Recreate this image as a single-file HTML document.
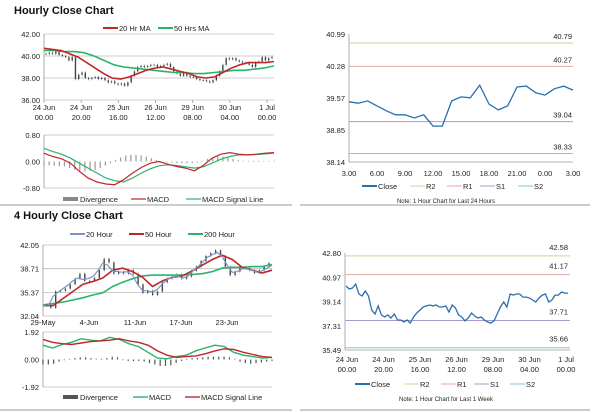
<!DOCTYPE html>
<html><head><meta charset="utf-8"><style>
body{margin:0;background:#fff;width:600px;height:413px;overflow:hidden;font-family:"Liberation Sans",sans-serif}
svg{position:absolute;left:0;top:0}
text{font-family:"Liberation Sans",sans-serif;font-size:7.5px;fill:#222}
.t{font-size:11px;font-weight:bold;fill:#111}
</style></head><body>
<svg id="c" width="600" height="413"></svg>
<script>
// ===== Hourly close chart =====
const h1Close=[40.2,40.3,40.2,40.4,40.1,40.0,39.9,39.6,39.9,37.9,38.3,38.5,38.0,37.9,38.0,38.1,37.9,38.0,37.8,37.6,37.7,37.5,37.4,37.5,37.3,37.6,38.2,38.6,39.0,39.1,39.0,39.1,39.2,39.2,39.0,39.1,39.2,39.3,39.0,38.6,38.4,38.2,38.5,38.2,38.1,38.1,37.9,37.8,37.8,37.7,37.6,37.8,38.2,38.6,39.2,39.8,39.7,39.8,39.6,39.5,39.4,39.4,39.2,39.0,39.4,39.5,39.9,39.6,39.8,39.9];
const h1MA20=[40.7,40.6,40.5,40.2,39.9,39.4,38.9,38.4,38.0,37.9,38.1,38.4,38.7,38.9,39.0,38.8,38.6,38.4,38.1,38.0,38.1,38.5,38.9,39.2,39.4,39.4,39.4,39.5];
const h1MA50=[40.5,40.5,40.4,40.4,40.3,40.0,39.6,39.2,39.0,38.9,38.8,38.7,38.6,38.5,38.5,38.4,38.4,38.5,38.6,38.7,38.7,38.8,38.9,39.1];
const h1Ticks=[42,40,38,36];
const h1XLabels=[["24 Jun","00.00"],["24 Jun","20.00"],["25 Jun","16.00"],["26 Jun","12.00"],["29 Jun","08.00"],["30 Jun","04.00"],["1 Jul","00.00"]];
const h1Macd=[0.25,0.15,0.08,-0.05,-0.3,-0.5,-0.62,-0.68,-0.7,-0.55,-0.35,-0.18,-0.05,0.0,-0.08,-0.15,-0.2,-0.28,-0.12,0.1,0.22,0.27,0.22,0.2,0.22,0.25,0.27];
const h1Signal=[0.4,0.3,0.22,0.1,-0.05,-0.2,-0.35,-0.5,-0.58,-0.62,-0.5,-0.35,-0.22,-0.13,-0.1,-0.12,-0.16,-0.2,-0.16,-0.05,0.07,0.15,0.2,0.2,0.21,0.23,0.25];
const h1Div=[-0.12,-0.12,-0.13,-0.14,-0.15,-0.2,-0.25,-0.28,-0.3,-0.28,-0.25,-0.2,-0.12,-0.05,0.05,0.12,0.18,0.2,0.2,0.18,0.15,0.1,0.05,0.0,-0.02,-0.03,-0.05,-0.05,-0.05,-0.05,-0.03,0.02,0.08,0.12,0.15,0.15,0.12,0.08,0.04,0.02,0.02,0.02,0.02,0.02,0.02,0.02];
const h1MTicks=[0.8,0,-0.8];
// ===== Hourly levels chart =====
const r24Close=[39.48,39.45,39.50,39.39,39.28,39.19,39.19,39.12,39.19,38.94,38.94,39.50,39.59,39.57,39.85,39.43,39.30,39.39,39.81,39.83,39.68,39.63,39.77,39.83,39.74];
const r24Ticks=[40.99,40.28,39.57,38.85,38.14];
const r24XLabels=["3.00","6.00","9.00","12.00","15.00","18.00","21.00","0.00","3.00"];
const r24Levels=[40.79,40.27,39.04,38.33];
// ===== 4 hourly chart =====
const h4Close=[33.5,33.2,35.5,35.6,35.9,36.5,37.3,38.0,37.0,37.0,37.4,38.5,40.1,39.6,38.0,38.3,38.0,38.5,38.0,36.5,35.3,35.6,35.0,35.5,36.8,37.3,37.6,37.9,37.3,37.6,38.4,39.0,39.8,40.5,40.9,41.3,40.5,39.0,37.8,38.3,38.9,38.8,38.5,38.1,38.5,39.0,39.5];
const h4MA20=[33.6,33.4,34.8,35.4,35.9,36.4,37.0,37.4,37.2,37.3,37.6,38.4,39.5,39.2,38.4,38.3,38.2,38.3,37.8,36.5,35.6,35.6,35.4,35.8,36.6,37.2,37.5,37.7,37.4,37.6,38.3,38.9,39.6,40.3,40.7,41.0,40.4,39.2,38.2,38.3,38.7,38.7,38.5,38.2,38.4,38.8,39.2];
const h4MA50=[33.5,33.5,34.5,35.5,36.5,36.9,37.4,38.5,38.8,38.3,37.5,36.2,37.0,37.5,37.7,38.4,39.2,40.0,40.6,40.0,38.9,38.5,38.1,38.5];
const h4MA200=[33.6,33.8,34.0,34.3,34.6,35.0,35.3,36.2,36.8,37.3,37.7,37.8,37.8,37.8,37.8,37.9,38.0,38.3,38.8,38.9,38.9,39.0,39.0,39.3];
const h4Ticks=[42.05,38.71,35.37,32.04];
const h4XLabels=["29-May","4-Jun","11-Jun","17-Jun","23-Jun"];
const h4Macd=[1.0,0.8,1.05,1.2,1.45,1.35,1.3,1.55,1.4,1.1,0.9,0.5,0.1,0.05,0.2,0.3,0.6,0.8,1.0,0.9,0.5,0.3,0.2,0.1,0.15];
const h4Signal=[1.4,1.2,1.1,1.05,1.15,1.25,1.3,1.35,1.45,1.3,1.2,1.0,0.6,0.3,0.15,0.2,0.25,0.4,0.6,0.75,0.7,0.5,0.35,0.2,0.15];
const h4Div=[-0.35,-0.35,-0.3,-0.15,-0.05,0.05,0.1,0.15,0.15,0.1,0.05,0.05,0.1,0.2,0.15,-0.05,-0.1,-0.12,-0.1,-0.15,-0.25,-0.35,-0.45,-0.45,-0.4,-0.25,-0.1,0.05,0.1,0.12,0.15,0.2,0.2,0.2,0.2,0.15,0.05,-0.15,-0.25,-0.3,-0.25,-0.2,-0.15,-0.1];
const h4MTicks=[1.92,0,-1.92];
// ===== 1 week levels chart =====
const wkClose=[40.31,40.09,40.16,40.46,39.71,39.56,39.94,39.56,38.50,38.20,38.81,38.13,37.98,38.13,37.90,38.20,37.75,37.75,37.60,37.75,37.52,37.98,38.28,38.50,38.73,38.81,38.88,38.81,38.88,38.73,38.73,38.81,38.35,38.88,38.66,38.13,37.98,37.68,37.90,38.28,38.05,37.90,37.98,37.75,37.60,37.52,37.68,38.20,38.73,39.11,38.73,39.71,39.63,39.71,39.71,39.48,39.48,39.41,39.26,39.11,39.41,39.63,39.71,39.11,39.26,39.63,39.63,39.86,39.78,39.78];
const wkTicks=[42.80,40.97,39.14,37.31,35.49];
const wkLevels=[42.58,41.17,37.71,35.66];

const S=document.getElementById('c');const NS='http://www.w3.org/2000/svg';
function el(tag,a,txt){const e=document.createElementNS(NS,tag);for(const k in a)e.setAttribute(k,a[k]);if(txt!==undefined)e.textContent=txt;S.appendChild(e);return e;}
function lin(d0,d1,r0,r1){return v=>r0+(v-d0)/(d1-d0)*(r1-r0);}
function poly(arr,x0,x1,ys,color,w,name){const xs=lin(0,arr.length-1,x0,x1);
 const e=el('polyline',{points:arr.map((v,i)=>xs(i).toFixed(1)+','+ys(v).toFixed(1)).join(' '),fill:'none',stroke:color,'stroke-width':w});
 
 }
function txt(x,y,s,anchor,cls,name){const e=el('text',{x:x,y:y,'text-anchor':anchor||'start'},s);if(cls)e.setAttribute('class',cls);
 
 return e;}
function hline(x0,x1,y,c,w,name){const e=el('line',{x1:x0,x2:x1,y1:y,y2:y,stroke:c,'stroke-width':w||1});
 
 }
function vline(x,y0,y1,c,w,name){const e=el('line',{x1:x,x2:x,y1:y0,y2:y1,stroke:c,'stroke-width':w||1});
 
 }
function legLine(x,y,c,label,w){hline(x,x+15,y,c,w||2,'legend-swatch');txt(x+16,y+3,label,'start',null,'legend-entry');}
function legBox(x,y,c,label){const r=el('rect',{x:x,y:y-2,width:15,height:4,fill:c});
 
 
 txt(x+17,y+3,label,'start',null,'legend-entry');}
function candles(arr,x0,x1,ys,name){const xs=lin(0,arr.length-1,x0,x1);
 arr.forEach((v,i)=>{const o=i?arr[i-1]:v;const x=xs(i);const top=Math.min(ys(o),ys(v)),bot=Math.max(ys(o),ys(v));
  vline(x,top-1.2,bot+1.2,'#555',0.5,name+'-wick');
  const r=el('rect',{x:x-0.7,y:top,width:1.4,height:Math.max(bot-top,0.8),fill:'#444'});
  
  });}
function bars(arr,x0,x1,ys,c,name){const xs=lin(0,arr.length-1,x0,x1);
 arr.forEach((v,i)=>{const y0=ys(0),y1=ys(v);const r=el('rect',{x:xs(i)-0.6,y:Math.min(y0,y1),width:1.2,height:Math.abs(y1-y0),fill:c});
  
  });}

// ---- Hourly Close Chart
txt(14,14,'Hourly Close Chart','start','t','hourly-title');
legLine(103,28,'#c0262c','20 Hr MA');legLine(158,28,'#2bb36a','50 Hrs MA');
{const X0=44,X1=274,ys=lin(42,36,34,100);
 h1Ticks.forEach(t=>{hline(X0,X1,ys(t),'#bbb',0.8,'gridline');txt(40,ys(t)+3,t.toFixed(2),'end',null,'y-tick-label');});
 vline(X0,34,100,'#999',0.8,'y-axis');
 h1XLabels.forEach((l,i)=>{const x=X0+i*(267-X0)/6;txt(x,110,l[0],'middle',null,'x-tick-label');txt(x,120,l[1],'middle',null,'x-tick-label');vline(x,100,103,'#999',0.8,'x-tick');});
 candles(h1Close,X0+2,X1-2,ys,'hourly');
 poly(h1MA50,X0,X1,ys,'#2bb36a',1.6,'ma50-line');poly(h1MA20,X0,X1,ys,'#c0262c',1.6,'ma20-line');
 const ym=lin(0.8,-0.8,135,188);
 h1MTicks.forEach(t=>txt(40,ym(t)+3,t.toFixed(2),'end',null,'y-tick-label'));
 hline(X0,X1,135,'#bbb',0.8,'gridline');hline(X0,X1,188,'#bbb',0.8,'gridline');vline(X0,135,188,'#999',0.8,'y-axis');
 bars(h1Div,X0,X1,ym,'#999','divergence-bar');
 poly(h1Signal,X0,X1,ym,'#2bb36a',1.2,'macd-signal-line');poly(h1Macd,X0,X1,ym,'#c0262c',1.2,'macd-line');
 legBox(63,199,'#888','Divergence');legLine(131,199,'#c0262c','MACD',1.2);legLine(186,199,'#2bb36a','MACD Signal Line',1.2);}
hline(0,292,205,'#999',1,'separator');hline(300,590,205,'#999',1,'separator');

// ---- right top
{const X0=349,X1=573,ys=lin(40.99,38.14,34,162);
 r24Ticks.forEach(t=>txt(345,ys(t)+3,t.toFixed(2),'end',null,'y-tick-label'));
 vline(X0,34,162,'#999',0.8,'y-axis');hline(X0,X1,162,'#999',0.8,'x-axis');
 const lc=['#c9d49a','#e8a5a5','#a99bc9','#7ec9d4'],ln=['r2-line','r1-line','s1-line','s2-line'];
 r24Levels.forEach((v,i)=>{hline(X0,X1,ys(v),lc[i],1,ln[i]);txt(572,ys(v)-4,v.toFixed(2),'end',null,'level-label');});
 r24XLabels.forEach((l,i)=>txt(X0+i*(X1-X0)/8,176,l,'middle',null,'x-tick-label'));
 poly(r24Close,X0,X1,ys,'#2a6fb0',1.3,'close-line');
 legLine(362,186,'#2a6fb0','Close');legLine(410,186,'#c9d49a','R2',1);legLine(447,186,'#e8a5a5','R1',1);legLine(480,186,'#a99bc9','S1',1);legLine(518,186,'#7ec9d4','S2',1);
 const n=txt(446,203,'Note: 1 Hour Chart for Last 24 Hours','middle',null,'note');n.style.fontSize='6px';}

// ---- 4 Hourly
txt(14,219,'4 Hourly Close Chart','start','t','four-hourly-title');
legLine(70,234,'#7a95c4','20 Hour');legLine(129,234,'#c0262c','50 Hour');legLine(188,234,'#2bb36a','200 Hour');
{const X0=43,X1=272,ys=lin(42.05,32.04,245,316);
 h4Ticks.forEach(t=>{hline(X0,X1,ys(t),'#bbb',0.8,'gridline');txt(39,ys(t)+3,t.toFixed(2),'end',null,'y-tick-label');});
 vline(X0,245,316,'#999',0.8,'y-axis');
 h4XLabels.forEach((l,i)=>{const x=X0+i*(227-X0)/4;txt(x,325,l,'middle',null,'x-tick-label');});
 candles(h4Close,X0+3,X1-3,ys,'four-hourly');
 poly(h4MA200,X0,X1,ys,'#2bb36a',1.6,'ma200-line');poly(h4MA50,X0,X1,ys,'#c0262c',1.6,'ma50-line');poly(h4MA20,X0,X1,ys,'#7a95c4',1.2,'ma20-line');
 const ym=lin(1.92,-1.92,332,387);
 h4MTicks.forEach(t=>txt(39,ym(t)+3,t.toFixed(2),'end',null,'y-tick-label'));
 hline(X0,X1,332,'#bbb',0.8,'gridline');hline(X0,X1,387,'#bbb',0.8,'gridline');vline(X0,332,387,'#999',0.8,'y-axis');
 bars(h4Div,X0,X1,ym,'#555','divergence-bar');
 poly(h4Macd,X0,X1,ym,'#2bb36a',1.4,'macd-line');poly(h4Signal,X0,X1,ym,'#c0262c',1.4,'macd-signal-line');
 legBox(63,397,'#555','Divergence');legLine(133,397,'#2bb36a','MACD',1.4);legLine(185,397,'#c0262c','MACD Signal Line',1.4);}
hline(0,292,410,'#999',1,'separator');hline(300,590,410,'#999',1,'separator');

// ---- right bottom
{const X0=345,X1=570,ys=lin(42.80,35.49,253,350);
 wkTicks.forEach(t=>txt(341,ys(t)+3,t.toFixed(2),'end',null,'y-tick-label'));
 vline(X0,253,350,'#999',0.8,'y-axis');hline(X0,X1,350,'#999',0.8,'x-axis');
 const lc=['#c9d49a','#e8a5a5','#a99bc9','#7ec9d4'],ln=['r2-line','r1-line','s1-line','s2-line'];
 wkLevels.forEach((v,i)=>{hline(X0,X1,ys(v),lc[i],1,ln[i]);txt(568,ys(v)-6,v.toFixed(2),'end',null,'level-label');});
 h1XLabels.forEach((l,i)=>{const x=347+i*(566-347)/6;txt(x,362,l[0],'middle',null,'x-tick-label');txt(x,372,l[1],'middle',null,'x-tick-label');});
 poly(wkClose,X0+1,X1-2,ys,'#2a6fb0',1.3,'close-line');
 legLine(355,384,'#2a6fb0','Close');legLine(404,384,'#c9d49a','R2',1);legLine(441,384,'#e8a5a5','R1',1);legLine(474,384,'#a99bc9','S1',1);legLine(510,384,'#7ec9d4','S2',1);
 const n=txt(446,401,'Note: 1 Hour Chart for Last 1 Week','middle',null,'note');n.style.fontSize='6px';}
</script>
</body></html>
